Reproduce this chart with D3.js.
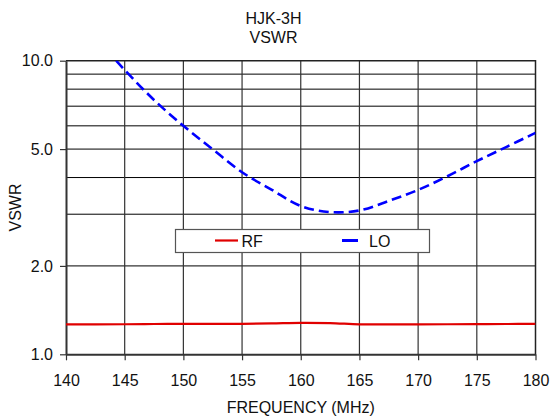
<!DOCTYPE html>
<html>
  <head>
    <meta charset="UTF-8" />
    <script src="https://d3js.org/d3.v7.min.js"></script>
    <style>
      body { margin: 0; background: #fff; }
      text { font-family: "Liberation Sans", Arial, sans-serif; fill: #111; }
    </style>
  </head>
  <body>
    <div id="chart"></div>
    <script>
      // valeurs
      const freqs = [140, 142.5, 145, 147.5, 150, 152.5, 155, 157.5, 160, 162.5, 165, 167.5, 170, 172.5, 175, 177.5, 180];
      const rfVswr = [1.265, 1.265, 1.266, 1.268, 1.27, 1.27, 1.27, 1.274, 1.28, 1.277, 1.265, 1.265, 1.265, 1.266, 1.267, 1.268, 1.27];
      const loVswr = [15.5, 12.0, 9.3, 7.35, 6.0, 4.99, 4.17, 3.64, 3.2, 3.05, 3.09, 3.33, 3.63, 4.04, 4.55, 5.08, 5.68];
      const xTicks = [140, 145, 150, 155, 160, 165, 170, 175, 180];
      const yTicks = [1, 2, 5, 10];
      const yGrid = [2, 3, 4, 5, 6, 7, 8, 9];
      const titleLines = ["HJK-3H", "VSWR"];

      const W = 551, H = 420;
      const pLeft = 66, pRight = 535.5, pTop = 60.7, pBottom = 354.3;

      const svg = d3.select("#chart").append("svg")
        .attr("width", W).attr("height", H);

      const x = d3.scaleLinear().domain([140, 180]).range([pLeft, pRight]);
      const y = d3.scaleLog().domain([1, 10]).range([pBottom, pTop]);

      svg.append("clipPath").attr("id", "clip")
        .append("rect").attr("x", pLeft).attr("y", pTop)
        .attr("width", pRight - pLeft).attr("height", pBottom - pTop);

      // grille
      svg.append("g").selectAll("line")
        .data(yGrid).join("line")
        .attr("x1", pLeft).attr("x2", pRight)
        .attr("y1", d => y(d)).attr("y2", d => y(d))
        .style("stroke", "#000").style("stroke-width", 1);

      svg.append("g").selectAll("line")
        .data(xTicks.slice(1, -1)).join("line")
        .attr("x1", d => x(d)).attr("x2", d => x(d))
        .attr("y1", pTop).attr("y2", pBottom)
        .style("stroke", "#333").style("stroke-width", 1.2);

      // cadre haut / droite
      svg.append("path")
        .attr("d", `M${pLeft},${pTop}H${pRight}V${pBottom}`)
        .style("fill", "none").style("stroke", "#222").style("stroke-width", 1.5);

      // axes
      const xAxis = svg.append("g")
        .attr("transform", `translate(0,${pBottom})`)
        .call(d3.axisBottom(x).tickValues(xTicks).tickSize(6).tickSizeOuter(0));
      xAxis.select(".domain").style("stroke", "#333").style("stroke-width", 2);
      xAxis.selectAll(".tick line").style("stroke", "#333").style("stroke-width", 1.2);
      xAxis.selectAll("text")
        .attr("y", 20)
        .style("font-size", "16px").style("fill", "#111")
        .style("font-family", "'Liberation Sans', Arial, sans-serif");

      const yAxis = svg.append("g")
        .attr("transform", `translate(${pLeft},0)`)
        .call(d3.axisLeft(y).tickValues(yTicks).tickSize(6).tickSizeOuter(0).tickPadding(7)
          .tickFormat(d3.format(".1f")));
      yAxis.select(".domain").style("stroke", "#333").style("stroke-width", 2);
      yAxis.selectAll(".tick line").style("stroke", "#333").style("stroke-width", 1.2);
      yAxis.selectAll("text")
        .style("font-size", "16px").style("fill", "#111")
        .style("font-family", "'Liberation Sans', Arial, sans-serif");

      // courbes
      const line = (vals) => d3.line()
        .x((d, i) => x(freqs[i]))
        .y(d => y(d))
        .curve(d3.curveCatmullRom.alpha(0.5))(vals);

      svg.append("path")
        .attr("d", line(rfVswr))
        .attr("clip-path", "url(#clip)")
        .style("fill", "none").style("stroke", "#e00000").style("stroke-width", 2.2);

      svg.append("path")
        .attr("d", line(loVswr))
        .attr("clip-path", "url(#clip)")
        .style("fill", "none").style("stroke", "#0000ff").style("stroke-width", 2.6)
        .style("stroke-dasharray", "10,5");

      // légende
      const lg = svg.append("g");
      lg.append("rect")
        .attr("x", 175.5).attr("y", 229.5).attr("width", 254).attr("height", 23)
        .style("fill", "#fff").style("stroke", "#555").style("stroke-width", 1.2);
      lg.append("line").attr("x1", 215).attr("x2", 238).attr("y1", 240.5).attr("y2", 240.5)
        .style("stroke", "#e00000").style("stroke-width", 2.2);
      lg.append("text").attr("x", 241.5).attr("y", 246.5).text("RF").style("font-size", "16px");
      lg.append("line").attr("x1", 342).attr("x2", 358).attr("y1", 240.5).attr("y2", 240.5)
        .style("stroke", "#0000ff").style("stroke-width", 3);
      lg.append("text").attr("x", 369).attr("y", 246.5).text("LO").style("font-size", "16px");

      // titres
      svg.append("text")
        .attr("text-anchor", "middle")
        .style("font-size", "16px")
        .selectAll("tspan").data(titleLines).join("tspan")
        .attr("x", 273.5).attr("y", (d, i) => 24 + i * 18.5)
        .text(d => d);

      svg.append("text")
        .attr("x", (pLeft + pRight) / 2).attr("y", 413)
        .attr("text-anchor", "middle")
        .style("font-size", "16px")
        .text("FREQUENCY (MHz)");

      svg.append("text")
        .attr("transform", `translate(20.5,${(pTop + pBottom) / 2}) rotate(-90)`)
        .attr("text-anchor", "middle")
        .style("font-size", "16px")
        .text("VSWR");
    </script>
  </body>
</html>
